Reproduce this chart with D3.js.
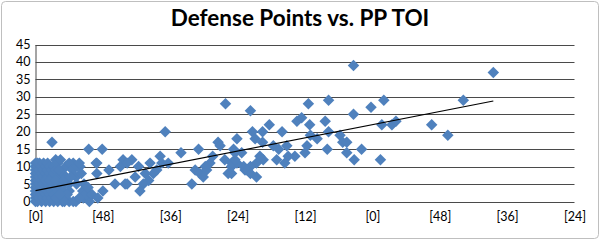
<!DOCTYPE html>
<html>
<head>
<meta charset="utf-8">
<script src="https://cdn.jsdelivr.net/npm/d3@7"></script>
<style>
  body { margin: 0; background: #fff; }
  text { font-family: Lato, "Liberation Sans", sans-serif; }
</style>
</head>
<body>
<script>
// PP TOI (in days, Excel style) and defense points per player
var ppToi = [
  0,0,0,0,0,0,0,0,0,0,0,0,
  0.006,0.006,0.006,0.006,0.006,0.006,0.006,
  0.012,0.012,0.012,0.012,0.012,0.012,
  0.018,0.018,0.018,0.018,0.018,0.018,
  0.024,0.024,0.024,0.024,0.024,0.024,
  0.03,0.03,0.03,0.03,0.03,
  0.036,0.036,0.036,0.036,0.036,0.036,
  0.042,0.042,0.042,0.042,0.042,
  0.048,0.048,0.048,0.048,0.049,
  0.054,0.054,0.054,0.054,0.054,
  0.06,0.06,0.06,0.06,
  0.066,0.066,0.066,0.066,
  0.074,0.074,0.074,
  0.08,0.08,0.08,
  0.09,0.09,0.1,0.1,0.112,0.112,0.122,0.132,0.142,0.15,0.16,
  0.07,0.09,0.1,0.11,0.12,0.124,0.13,0.136,0.14,0.144,0.15,0.156,0.12,0.13,0.1,
  0.03,0.042,0.06,0.078,0.084,0.094,0.104,0.062,0.072,0.086,
  0.158,0.198,0.182,0.218,0.26,0.266,0.2,0.252,0.182,0.236,0.168,0.185,0.18,
  0.385,0.432,0.484,0.464,0.542,0.598,0.286,0.272,0.306,0.34,0.37,0.375,0.394,
  0.296,0.326,0.336,0.35,0.36,0.32,0.31,0.272,0.474,0.488,0.508,0.518,0.526,
  0.504,0.498,0.548,0.562,0.582,0.572,0.592,0.564,
  0.81,0.87,0.638,0.776,0.79,0.86,0.814,0.694,0.87,0.644,0.674,0.732,0.652,
  0.674,0.816,0.836,0.904,0.912,0.8,0.806,0.866,0.746,0.706,0.588,0.612,
  0.722,0.77,0.75,0.716,0.74,0.676,0.666,0.656,0.638,0.622,0.598,0.582,0.592,
  0.618,0.628,0.638,0.656,0.582,
  0.944,0.944,0.996,1.034,1.27,1.028,1.058,1.07,1.176,1.224,0.924,0.924,0.968,
  0.946,1.024,1.359
];
var points = [
  0,1,2,3,4,5,6,7,8,9,10,11,
  0,2,4,6,8,10,11,
  1,3,5,7,9,11,
  0,2,4,6,8,10,
  1,3,5,7,9,11,
  0,2,4,8,10,
  1,3,5,7,9,11,
  0,2,4,8,10,
  1,3,7,9,17,
  0,2,5,8,10,
  1,4,9,12,
  0,3,7,11,
  1,5,12,
  0,3,8,
  2,10,0,5,0,11,5,10,1,3,0,
  9,7,11,9,7,10,11,8,3,5,2,4,0,1,3,
  6,6,6,4,6,2,7,1,2,0,
  15,15,11,9,12,5,3,10,8,5,2,1,11,
  20,14,15,5,17,18,12,11,10,11,13,11,11,
  7,8,6,8,9,5,3,5,9,8,9,11,13,
  10,7,16,12,10,8,14,28,
  28,29,26,23,24,23,22,22,20,20,20,20,18,
  17,19,18,19,17,14,16,15,16,16,15,14,
  15,13,13,12,11,12,13,11,10,9,11,11,12,
  10,9,8,7,8,
  39,25,27,29,29,22,22,23,22,19,17,14,15,
  12,12,37
];

// linear trendline as drawn in the chart (start and end)
var trendX = [0, 1.359];
var trendY = [3.1, 28.8];

var yTicks = [0, 5, 10, 15, 20, 25, 30, 35, 40, 45];
var xTicks = [0, 0.2, 0.4, 0.6, 0.8, 1.0, 1.2, 1.4, 1.6];
var xTickLabels = ['[0]', '[48]', '[36]', '[24]', '[12]', '[0]', '[48]', '[36]', '[24]'];

var width = 600, height = 240;
var svg = d3.select('body').append('svg')
    .attr('width', width)
    .attr('height', height);

// chart area border
svg.append('rect')
    .attr('x', 1.5).attr('y', 1.5)
    .attr('width', width - 3).attr('height', height - 3)
    .attr('rx', 4)
    .attr('fill', '#fff')
    .attr('stroke', '#bfbfbf');

svg.append('text')
    .attr('x', 300).attr('y', 26)
    .attr('text-anchor', 'middle')
    .attr('font-size', 22.5)
    .attr('font-weight', 'bold')
    .text('Defense Points vs. PP TOI');

var xScale = d3.scaleLinear().domain([0, 1.6]).range([35.5, 574.5]);
var yScale = d3.scaleLinear().domain([0, 45]).range([201.5, 44.5]);

// gridlines
svg.append('g').selectAll('line')
    .data(yTicks)
    .enter().append('line')
    .attr('x1', xScale(0)).attr('x2', xScale(1.6))
    .attr('y1', d => Math.round(yScale(d)) + 0.5)
    .attr('y2', d => Math.round(yScale(d)) + 0.5)
    .attr('stroke', '#4a4a4a');

var yAxis = d3.axisLeft(yScale).tickValues(yTicks).tickSize(0).tickPadding(5);
var gy = svg.append('g').attr('transform', `translate(${xScale(0)},0)`).call(yAxis);
gy.select('.domain').attr('stroke', '#4a4a4a');
gy.selectAll('text').attr('font-size', 12.5).attr('fill', '#000').attr('font-family', 'Lato');

var xAxis = d3.axisBottom(xScale).tickValues(xTicks).tickSize(0).tickPadding(11)
    .tickFormat((d, i) => xTickLabels[i]);
var gx = svg.append('g').attr('transform', `translate(0,${yScale(0)})`).call(xAxis);
gx.select('.domain').remove();
gx.selectAll('text').attr('font-size', 12.5).attr('fill', '#000').attr('font-family', 'Lato');

var data = ppToi.map((x, i) => ({x: x, y: points[i]}));

// diamonds
var diamond = d3.symbol().type(d3.symbolSquare).size(66);
svg.append('g').selectAll('path')
    .data(data)
    .enter().append('path')
    .attr('d', diamond)
    .attr('transform', d => `translate(${xScale(d.x)},${yScale(d.y)}) rotate(45)`)
    .attr('fill', '#4f81bd');

svg.append('line')
    .attr('x1', xScale(trendX[0])).attr('y1', yScale(trendY[0]))
    .attr('x2', xScale(trendX[1])).attr('y2', yScale(trendY[1]))
    .attr('stroke', '#000')
    .attr('stroke-width', 1.2);
</script>
</body>
</html>
